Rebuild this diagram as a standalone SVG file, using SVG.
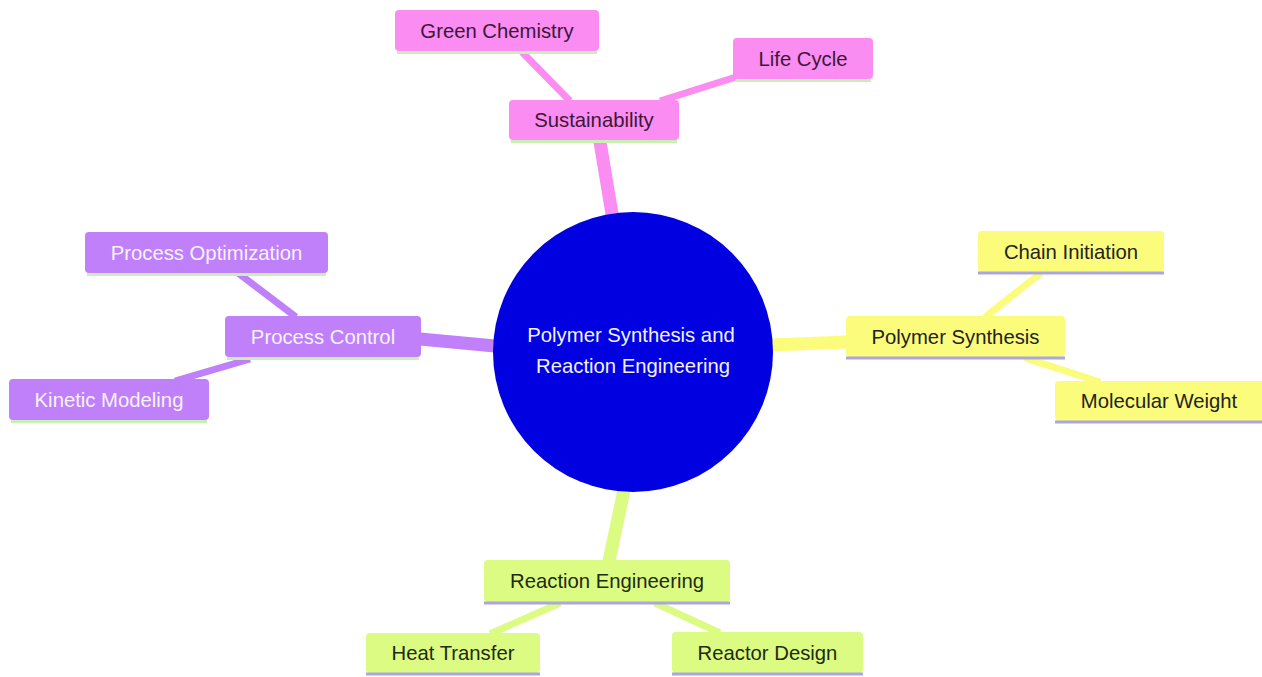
<svg xmlns="http://www.w3.org/2000/svg" width="1262" height="677" viewBox="0 0 1262 677">
<style>
text{font-family:"Liberation Sans",Arial,sans-serif;font-size:20.3px;text-anchor:middle;dominant-baseline:central}
.pink rect.b{fill:#fa8cf2}.pink text{fill:#3a1838}
.purple rect.b{fill:#bf80fa}.purple text{fill:#f7f2ff}
.yellow rect.b{fill:#fcfc7c}.yellow text{fill:#222222}
.green rect.b{fill:#dcfb82}.green text{fill:#1e2a12}
.ulg{stroke:#c8f0b4;stroke-width:3}
.ull{stroke:#aaa6e0;stroke-width:3}
.e{fill:none;stroke-linecap:butt}
.e1{stroke-width:13}.e2{stroke-width:7}
.ep{stroke:#fa8cf2}.eu{stroke:#bf80fa}.ey{stroke:#fcfc7c}.eg{stroke:#dcfb82}
</style>
<rect width="1262" height="677" fill="#ffffff"/>
<g id="connectors">
<line class="e e1 ep" x1="612" y1="214" x2="600" y2="142"/>
<line class="e e2 ep" x1="570" y1="101" x2="522" y2="52"/>
<line class="e e2 ep" x1="660" y1="101" x2="736" y2="77"/>
<line class="e e1 eu" x1="495" y1="346" x2="420" y2="339"/>
<line class="e e2 eu" x1="296" y1="317" x2="238" y2="273"/>
<line class="e e2 eu" x1="250" y1="359" x2="175" y2="381"/>
<line class="e e1 ey" x1="771" y1="345" x2="847" y2="342"/>
<line class="e e2 ey" x1="985" y1="317" x2="1041" y2="273"/>
<line class="e e2 ey" x1="1025" y1="358" x2="1100" y2="382"/>
<line class="e e1 eg" x1="624" y1="490" x2="609" y2="561"/>
<line class="e e2 eg" x1="560" y1="603" x2="490" y2="634"/>
<line class="e e2 eg" x1="655" y1="603" x2="720" y2="633"/>
</g>
<g id="root">
<circle cx="633" cy="352" r="140" fill="#0000e0"/>
<text x="631" y="335" fill="#f2f0ff">Polymer Synthesis and</text>
<text x="633" y="366" fill="#f2f0ff">Reaction Engineering</text>
</g>
<g id="sustainability" class="pink">
<rect class="b" x="509" y="100" width="170" height="40" rx="4"/>
<line class="ulg" x1="511" y1="141.5" x2="677" y2="141.5"/>
<text x="594" y="120">Sustainability</text>
</g>
<g id="green-chemistry" class="pink">
<rect class="b" x="395" y="10" width="204" height="41" rx="4"/>
<line class="ulg" x1="397" y1="52.5" x2="597" y2="52.5"/>
<text x="497" y="30.5">Green Chemistry</text>
</g>
<g id="life-cycle" class="pink">
<rect class="b" x="733" y="38" width="140" height="41" rx="4"/>
<line class="ulg" x1="735" y1="80.5" x2="871" y2="80.5"/>
<text x="803" y="58.5">Life Cycle</text>
</g>
<g id="process-control" class="purple">
<rect class="b" x="225" y="316" width="196" height="41" rx="4"/>
<line class="ulg" x1="227" y1="358.5" x2="419" y2="358.5"/>
<text x="323" y="336.5">Process Control</text>
</g>
<g id="process-optimization" class="purple">
<rect class="b" x="85" y="232" width="243" height="41" rx="4"/>
<line class="ulg" x1="87" y1="274.5" x2="326" y2="274.5"/>
<text x="206.5" y="252.5">Process Optimization</text>
</g>
<g id="kinetic-modeling" class="purple">
<rect class="b" x="9" y="379" width="200" height="41" rx="4"/>
<line class="ulg" x1="11" y1="421.5" x2="207" y2="421.5"/>
<text x="109" y="399.5">Kinetic Modeling</text>
</g>
<g id="polymer-synthesis" class="yellow">
<rect class="b" x="846" y="316" width="219" height="41" rx="4"/>
<line class="ull" x1="846" y1="358" x2="1065" y2="358"/>
<text x="955.5" y="336.5">Polymer Synthesis</text>
</g>
<g id="chain-initiation" class="yellow">
<rect class="b" x="978" y="231" width="186" height="41" rx="4"/>
<line class="ull" x1="978" y1="273" x2="1164" y2="273"/>
<text x="1071" y="251.5">Chain Initiation</text>
</g>
<g id="molecular-weight" class="yellow">
<rect class="b" x="1055" y="381" width="210" height="40" rx="4"/>
<line class="ull" x1="1055" y1="422" x2="1262" y2="422"/>
<text x="1159" y="401">Molecular Weight</text>
</g>
<g id="reaction-engineering" class="green">
<rect class="b" x="484" y="560" width="246" height="42" rx="4"/>
<line class="ull" x1="484" y1="603" x2="730" y2="603"/>
<text x="607" y="581">Reaction Engineering</text>
</g>
<g id="heat-transfer" class="green">
<rect class="b" x="366" y="633" width="174" height="40" rx="4"/>
<line class="ull" x1="366" y1="674" x2="540" y2="674"/>
<text x="453" y="653">Heat Transfer</text>
</g>
<g id="reactor-design" class="green">
<rect class="b" x="672" y="632" width="191" height="41" rx="4"/>
<line class="ull" x1="672" y1="674" x2="863" y2="674"/>
<text x="767.5" y="652.5">Reactor Design</text>
</g>
</svg>
